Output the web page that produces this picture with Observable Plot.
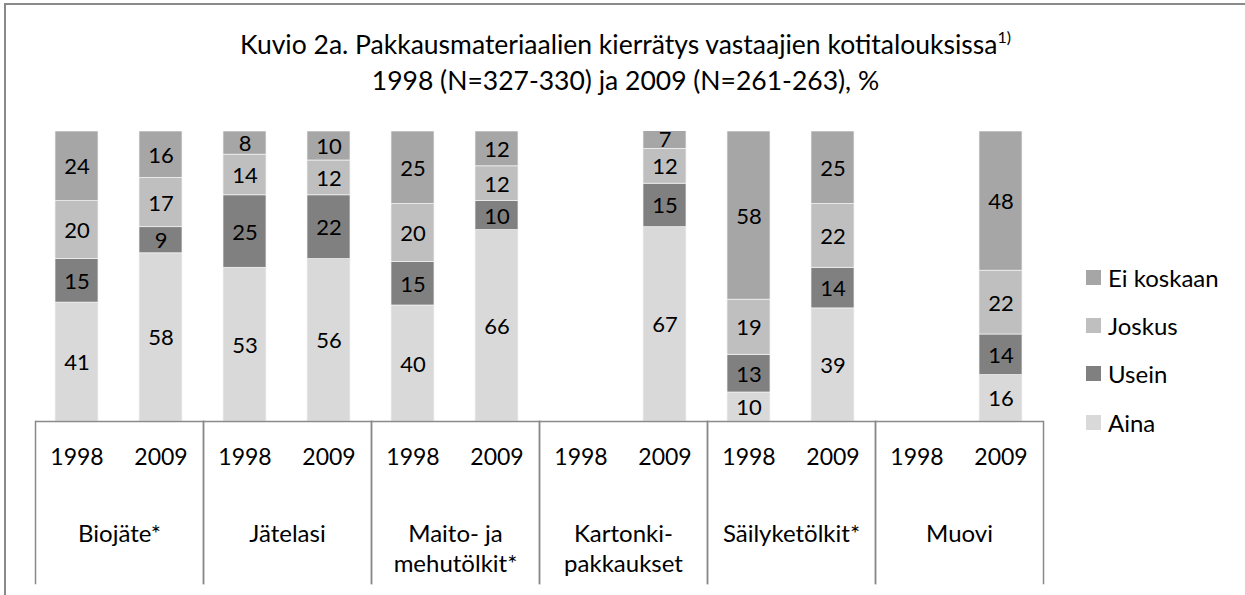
<!DOCTYPE html>
<html>
<head>
<meta charset="utf-8">
<script src="https://cdn.jsdelivr.net/npm/d3@7"></script>
<script src="https://cdn.jsdelivr.net/npm/@observablehq/plot@0.6"></script>
<style>
  body { margin: 0; background: #fff; font-family: Lato, "Open Sans", sans-serif; color: #000; }
  #wrap { position: relative; width: 1245px; height: 595px; overflow: hidden; }
  #border { position: absolute; left: 4px; top: 3px; width: 1400px; height: 800px;
            border-left: 2px solid #8a8a8a; border-top: 2px solid #8a8a8a; }
  #chart { position: absolute; left: 0; top: 0; }
  #title { position: absolute; left: 3px; top: 26px; width: 1245px; text-align: center;
           font-size: 26.5px; line-height: 36px; }
  #title sup { font-size: 16px; vertical-align: 11px; line-height: 0; }
  #legend { position: absolute; left: 1086px; top: 0; }
  .item { position: absolute; left: 0; display: flex; align-items: center; white-space: nowrap;
          font-size: 24px; height: 30px; }
  .sw { width: 15px; height: 15px; margin-right: 7px; }
</style>
</head>
<body>
<div id="wrap">
  <div id="border"></div>
  <div id="chart"></div>
  <div id="title"></div>
  <div id="legend"></div>
</div>
<script>
// ---- data ----
const categories = ["Biojäte*", "Jätelasi", "Maito- ja mehutölkit*", "Kartonkipakkaukset", "Säilyketölkit*", "Muovi"];
const categoryLabels = ["Biojäte*", "Jätelasi", "Maito- ja\nmehutölkit*", "Kartonki-\npakkaukset", "Säilyketölkit*", "Muovi"];
const years = ["1998", "2009"];
const series = ["Aina", "Usein", "Joskus", "Ei koskaan"];          // bottom -> top
const seriesColors = ["#d9d9d9", "#808080", "#bfbfbf", "#a6a6a6"];
const legendOrder = ["Ei koskaan", "Joskus", "Usein", "Aina"];

// values per category (null = no data)
const aina1998      = [41, 53, 40, null, 10, null];
const usein1998     = [15, 25, 15, null, 13, null];
const joskus1998    = [20, 14, 20, null, 19, null];
const eiKoskaan1998 = [24,  8, 25, null, 58, null];
const aina2009      = [58, 56, 66, 67, 39, 16];
const usein2009     = [ 9, 22, 10, 15, 14, 14];
const joskus2009    = [17, 12, 12, 12, 22, 22];
const eiKoskaan2009 = [16, 10, 12,  7, 25, 48];

const titleLine1 = "Kuvio 2a. Pakkausmateriaalien kierrätys vastaajien kotitalouksissa";
const titleSup = "1)";
const titleLine2 = "1998 (N=327-330) ja 2009 (N=261-263), %";

// ---- build table ----
const valueTable = {
  "1998": [aina1998, usein1998, joskus1998, eiKoskaan1998],
  "2009": [aina2009, usein2009, joskus2009, eiKoskaan2009]
};
const rows = [];
categories.forEach((cat, ci) => {
  years.forEach(year => {
    series.forEach((s, si) => {
      const v = valueTable[year][si][ci];
      if (v != null) rows.push({cat, year, series: s, value: v});
    });
  });
});
const yearRows = [];
categories.forEach(cat => years.forEach(year => yearRows.push({cat, year})));

// ---- layout ----
const W = 1245, H = 595;
const mTop = 131, mBottom = 174, mLeft = 34, mRight = 202;
const plotH = H - mTop - mBottom;
const lineColor = "#8a8a8a";

const chart = Plot.plot({
  width: W, height: H,
  marginTop: mTop, marginBottom: mBottom, marginLeft: mLeft, marginRight: mRight,
  style: {fontFamily: "Lato, 'Open Sans', sans-serif", fontSize: "22px", color: "#000", background: "transparent"},
  fx: {domain: categories, padding: 0, axis: null},
  x: {domain: years, paddingInner: 0.488, paddingOuter: 0.244, axis: null},
  y: {domain: [0, 100], axis: null},
  color: {domain: series, range: seriesColors},
  marks: [
    Plot.barY(rows, {fx: "cat", x: "year", y: "value", fill: "series", stroke: "#f4f4f4", strokeWidth: 0.7, clip: true}),
    Plot.text(rows, Plot.stackY({fx: "cat", x: "year", y: "value", text: d => String(d.value), fill: "#000", fontSize: 22, dy: 1})),
    Plot.ruleY([0], {stroke: lineColor, strokeWidth: 1.5}),
    Plot.frame({anchor: "left", stroke: lineColor, strokeWidth: 1.5, insetTop: plotH, insetBottom: -162}),
    Plot.frame({anchor: "right", stroke: lineColor, strokeWidth: 1.5, insetTop: plotH, insetBottom: -162}),
    Plot.text(yearRows, {fx: "cat", x: "year", text: "year", frameAnchor: "bottom", dy: 43, fill: "#000", fontSize: 23}),
    Plot.text(categories, {fx: d => d, text: (d, i) => categoryLabels[i], frameAnchor: "bottom", lineAnchor: "top",
                           dy: 99, lineHeight: 1.25, fill: "#000", fontSize: 24})
  ]
});
document.getElementById("chart").appendChild(chart);

// ---- title ----
const t = document.getElementById("title");
t.appendChild(document.createTextNode(titleLine1));
const sup = document.createElement("sup"); sup.textContent = titleSup; t.appendChild(sup);
t.appendChild(document.createElement("br"));
t.appendChild(document.createTextNode(titleLine2));

// ---- legend ----
const lg = document.getElementById("legend");
const legendY = [277, 325, 373, 422];
legendOrder.forEach((s, i) => {
  const it = document.createElement("div");
  it.className = "item";
  it.style.top = (legendY[i] - 15) + "px";
  const sw = document.createElement("div");
  sw.className = "sw";
  sw.style.background = seriesColors[series.indexOf(s)];
  const tx = document.createElement("span");
  tx.textContent = s;
  it.appendChild(sw); it.appendChild(tx);
  lg.appendChild(it);
});
</script>
</body>
</html>
